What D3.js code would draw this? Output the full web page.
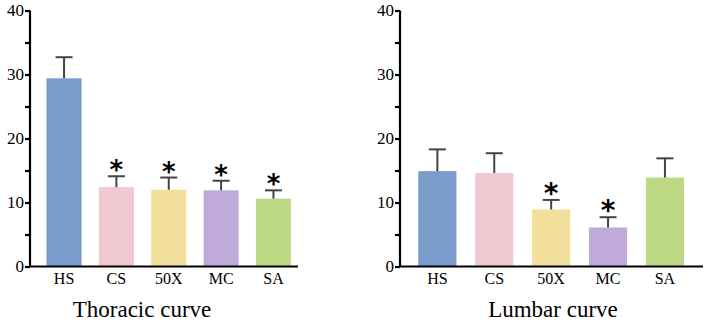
<!DOCTYPE html>
<html lang="en">
  <head>
    <meta charset="utf-8">
    <title>Thoracic and lumbar curve</title>
    <script type="text/javascript" src="https://cdn.jsdelivr.net/npm/d3@7"></script>
    <style>
      body { margin: 0; background: #fff; }
    </style>
  </head>
  <body>
    <script type="text/javascript">

    //Data
    var groups = ["HS", "CS", "50X", "MC", "SA"];
    var colors = ["#7b9bcb", "#f0c8cf", "#f3df9c", "#c0aada", "#bdd984"];
    var thoracicMean = [29.4, 12.4, 12.0, 11.9, 10.6];
    var thoracicSd = [3.3, 1.7, 1.9, 1.5, 1.3];
    var thoracicSig = [false, true, true, true, true];
    var lumbarMean = [14.9, 14.6, 8.9, 6.1, 13.9];
    var lumbarSd = [3.4, 3.1, 1.5, 1.6, 3.0];
    var lumbarSig = [false, false, true, true, false];
    var majorTicks = [0, 10, 20, 30, 40];
    var minorTicks = [5, 15, 25, 35];

    var w = 709;
    var h = 323;
    var serif = "'Liberation Serif', 'Times New Roman', serif";

    var svg = d3.select("body")
      .append("svg")
      .attr("width", w)
      .attr("height", h);

    //Shared y scale
    var yScale = d3.scaleLinear()
      .domain([0, 40])
      .range([266.5, 10.5]);

    function styleAxis(sel, size) {
      sel.selectAll("path, line")
        .attr("stroke", "black")
        .attr("stroke-width", 2.2);
      sel.selectAll("text")
        .style("font-family", serif)
        .style("font-size", size + "px")
        .attr("fill", "black");
    }

    function drawPanel(cfg) {
      var g = svg.append("g");

      var xScale = d3.scaleBand()
        .domain(groups)
        .range([cfg.barStart, cfg.barEnd])
        .paddingInner(0.33)
        .paddingOuter(0);

      //Bars
      g.selectAll("rect")
        .data(groups)
        .enter()
        .append("rect")
        .attr("x", function(d) { return xScale(d); })
        .attr("y", function(d, i) { return yScale(cfg.mean[i]); })
        .attr("width", xScale.bandwidth())
        .attr("height", function(d, i) { return yScale(0) - yScale(cfg.mean[i]); })
        .attr("fill", function(d, i) { return colors[i]; });

      //Error bars (upper only) and significance marks
      var cap = 8.5;
      groups.forEach(function(d, i) {
        var cx = xScale(d) + xScale.bandwidth() / 2;
        var top = yScale(cfg.mean[i] + cfg.sd[i]);
        g.append("line")
          .attr("x1", cx).attr("x2", cx)
          .attr("y1", yScale(cfg.mean[i])).attr("y2", top)
          .attr("stroke", "#444").attr("stroke-width", 2);
        g.append("line")
          .attr("x1", cx - cap).attr("x2", cx + cap)
          .attr("y1", top).attr("y2", top)
          .attr("stroke", "#444").attr("stroke-width", 2);
        if (cfg.sig[i]) {
          g.append("text")
            .attr("x", cx)
            .attr("y", top + 3)
            .attr("text-anchor", "middle")
            .style("font-family", "'DejaVu Sans', sans-serif")
            .style("font-weight", "bold")
            .style("font-size", cfg.starSize + "px")
            .text("*");
        }
      });

      //Y axis
      var yAxis = d3.axisLeft(yScale)
        .tickValues(majorTicks)
        .tickSize(5)
        .tickPadding(1);
      var ya = g.append("g")
        .attr("transform", "translate(" + cfg.axisX + ",0)")
        .call(yAxis);
      ya.select(".domain").attr("d", "M0," + yScale(40) + "V" + yScale(0));
      styleAxis(ya, 17);

      var yMinor = d3.axisLeft(yScale)
        .tickValues(minorTicks)
        .tickSize(5)
        .tickFormat("");
      var ym = g.append("g")
        .attr("transform", "translate(" + cfg.axisX + ",0)")
        .call(yMinor);
      ym.select(".domain").remove();
      styleAxis(ym, 17);

      //X axis
      var xAxis = d3.axisBottom(xScale)
        .tickSize(0)
        .tickPadding(6);
      var xa = g.append("g")
        .attr("transform", "translate(0," + yScale(0) + ")")
        .call(xAxis);
      xa.select(".domain").attr("d", "M" + (cfg.axisX - 1) + ",0H" + cfg.axisEnd);
      styleAxis(xa, 16);

      //Title
      g.append("text")
        .attr("x", cfg.titleX)
        .attr("y", 317)
        .attr("text-anchor", "middle")
        .style("font-family", serif)
        .style("font-size", "23px")
        .text(cfg.title);
    }

    drawPanel({
      mean: thoracicMean, sd: thoracicSd, sig: thoracicSig,
      axisX: 30, axisEnd: 298, barStart: 46.5, barEnd: 291,
      title: "Thoracic curve", titleX: 142, starSize: 26
    });

    drawPanel({
      mean: lumbarMean, sd: lumbarSd, sig: lumbarSig,
      axisX: 400, axisEnd: 703, barStart: 418.3, barEnd: 684,
      title: "Lumbar curve", titleX: 553, starSize: 28
    });

    </script>
  </body>
</html>
